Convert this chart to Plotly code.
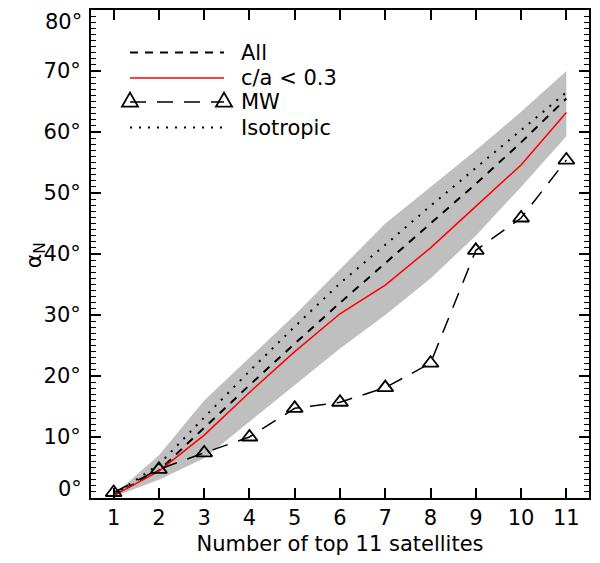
import plotly.graph_objects as go

n_sat = [1, 2, 3, 4, 5, 6, 7, 8, 9, 10, 11]
band_upper = [0.5, 7.0, 16.0, 23.0, 30.0, 37.5, 45.0, 51.0, 57.0, 63.3, 70.0]
band_lower = [0.2, 3.0, 6.5, 12.5, 18.5, 24.5, 30.0, 36.0, 43.0, 51.0, 59.3]
all_vals = [0.5, 4.5, 11.5, 18.5, 25.3, 32.0, 38.5, 45.0, 51.5, 58.3, 65.5]
flat_vals = [0.4, 4.4, 10.3, 17.3, 24.0, 30.2, 34.9, 41.0, 47.8, 54.6, 63.2]
mw_vals = [0.9, 4.7, 7.4, 10.0, 14.7, 15.7, 18.1, 22.1, 40.6, 45.9, 55.4]
iso_vals = [0.5, 5.5, 13.2, 20.8, 28.1, 35.2, 41.5, 47.9, 54.1, 60.3, 66.5]

y_ticks = [0, 10, 20, 30, 40, 50, 60, 70, 80]
y_labels = [f"{v}°" for v in y_ticks]
legend_labels = ["All", "c/a < 0.3", "MW", "Isotropic"]

FONT = "DejaVu Sans"
OFF = 8  # default page body margin
W, H = 600 - OFF, 563 - OFF
# plot area in page pixels: x 91..589, y 10..497.6
L, R, T, B = 91 - OFF, 600 - 589, 10 - OFF, 563 - 497.6

def px(x):
    return (x - OFF - L) / (W - L - R)

def py(y):
    return (H - B - (y - OFF)) / (H - T - B)

fig = go.Figure()
fig.add_trace(go.Scatter(x=n_sat, y=band_lower, mode="lines", line=dict(width=0),
                         showlegend=False, hoverinfo="skip"))
fig.add_trace(go.Scatter(x=n_sat, y=band_upper, mode="lines", line=dict(width=0),
                         fill="tonexty", fillcolor="#bfbfbf", showlegend=False, hoverinfo="skip"))
fig.add_trace(go.Scatter(x=n_sat, y=iso_vals, mode="lines",
                         line=dict(color="black", width=2, dash="2px,7px"), showlegend=False))
fig.add_trace(go.Scatter(x=n_sat, y=all_vals, mode="lines",
                         line=dict(color="black", width=2, dash="8px,7px"), showlegend=False))
fig.add_trace(go.Scatter(x=n_sat, y=flat_vals, mode="lines",
                         line=dict(color="#ff0000", width=1.5), showlegend=False))
fig.add_trace(go.Scatter(x=n_sat, y=mw_vals, mode="lines+markers",
                         line=dict(color="black", width=1.5, dash="16px,11px"),
                         marker=dict(symbol="triangle-up-open", size=14, color="black",
                                     line=dict(width=1.8, color="black")),
                         showlegend=False))

# manual legend
shapes = []
annotations = []
x0, x1 = 130, 224
rows_y = [52.5, 78, 102, 127.5]
styles = [
    dict(color="black", width=2, dash="8px,7px"),
    dict(color="#ff0000", width=1.5),
    dict(color="black", width=1.5, dash="16px,11px"),
    dict(color="black", width=2, dash="2px,7px"),
]
for yy, st, lab in zip(rows_y, styles, legend_labels):
    shapes.append(dict(type="line", xref="paper", yref="paper",
                       x0=px(x0), x1=px(x1), y0=py(yy), y1=py(yy), line=st))
    annotations.append(dict(text=lab, xref="paper", yref="paper", x=px(239), y=py(yy),
                            xanchor="left", yanchor="middle", showarrow=False,
                            font=dict(family=FONT, size=21, color="black")))
for xx in (x0, x1):
    shapes.append(dict(type="path", xref="paper", yref="paper",
                       xsizemode="pixel", ysizemode="pixel",
                       xanchor=px(xx), yanchor=py(rows_y[2]),
                       path="M-8,-4.5 L8,-4.5 L0,9.5 Z",
                       line=dict(color="black", width=1.8), fillcolor="rgba(0,0,0,0)"))

annotations.append(dict(text="α<sub>N</sub>", xref="paper", yref="paper",
                        x=px(35), y=py(255), textangle=-90, showarrow=False,
                        xanchor="center", yanchor="middle",
                        font=dict(family=FONT, size=22, color="black")))

# end tick labels (drawn nudged inward, as in the original figure);
# their major ticks coincide with the x axis lines anyway
annotations.append(dict(text=y_labels[-1], xref="paper", yref="paper",
                        x=px(84), y=py(8.5), xanchor="right", yanchor="top",
                        showarrow=False, font=dict(family=FONT, size=21, color="black")))
annotations.append(dict(text=y_labels[0], xref="paper", yref="paper",
                        x=px(84), y=py(489), xanchor="right", yanchor="middle",
                        showarrow=False, font=dict(family=FONT, size=21, color="black")))

fig.update_layout(
    width=W, height=H,
    margin=dict(l=L, r=R, t=T, b=B, pad=0),
    paper_bgcolor="white", plot_bgcolor="white",
    font=dict(family=FONT, size=21, color="black"),
    shapes=shapes, annotations=annotations,
    showlegend=False,
)
fig.update_xaxes(range=[0.5, 11.5], tickmode="array", tickvals=n_sat,
                 ticks="inside", ticklen=10, tickwidth=1.5, tickcolor="black",
                 showline=True, linewidth=2, linecolor="black", mirror="ticks",
                 showgrid=False, zeroline=False, automargin=False,
                 title=dict(text="Number of top 11 satellites", standoff=7,
                            font=dict(family=FONT, size=21)))
fig.update_yaxes(range=[0, 80], tickmode="array", tickvals=y_ticks[1:-1], ticktext=y_labels[1:-1],
                 ticks="inside", ticklen=10, tickwidth=1.5, tickcolor="black",
                 minor=dict(dtick=1, tick0=0, ticks="inside", ticklen=5, tickwidth=1.2,
                            tickcolor="black"),
                 showline=True, linewidth=2, linecolor="black", mirror="ticks",
                 showgrid=False, zeroline=False, ticklabelstandoff=4, automargin=False)

fig.write_html("out.html")
